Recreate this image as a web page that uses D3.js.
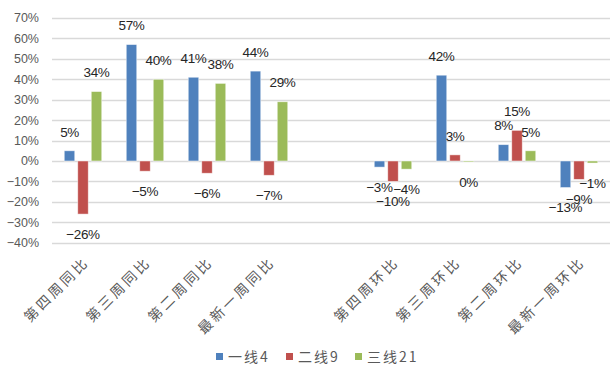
<!DOCTYPE html>
<html>
<head>
<meta charset="utf-8">
<script src="https://cdn.jsdelivr.net/npm/d3@7"></script>
<style>
  body { margin: 0; background: #fff; }
  svg { font-family: "Liberation Sans", "Noto Sans CJK SC", sans-serif; }
  svg text.cjk { font-family: "Noto Sans CJK SC", sans-serif; }
</style>
</head>
<body>
<svg id="chart" width="611" height="367"></svg>
<script>
// categories, one empty slot between the two halves
var categories = ['第四周同比', '第三周同比', '第二周同比', '最新一周同比', '',
  '第四周环比', '第三周环比', '第二周环比', '最新一周环比'];
var seriesNames = ['一线4', '二线9', '三线21'];
var seriesColors = ['#4F81BD', '#C0504D', '#9BBB59'];
var line1 = [5, 57, 41, 44, null, -3, 42, 8, -13];
var line2 = [-26, -5, -6, -7, null, -10, 3, 15, -9];
var line3 = [34, 40, 38, 29, null, -4, -0.4, 5, -1];
var yTicks = [-40, -30, -20, -10, 0, 10, 20, 30, 40, 50, 60, 70];

var seriesValues = [line1, line2, line3];
var svg = d3.select('#chart');
var margin = {left: 52, right: 1, top: 18, bottom: 124};
var width = 611, height = 367;

var x = d3.scaleBand()
  .domain(categories.map(function(d, i) { return i; }))
  .range([margin.left, width - margin.right]);

var x1 = d3.scaleBand()
  .domain([0, 1, 2])
  .range([0, 37.5])
  .paddingInner(0.222);
var groupOffset = (x.bandwidth() - 37.5) / 2;

var y = d3.scaleLinear()
  .domain([-40, 70])
  .range([height - margin.bottom - 0.3, margin.top]);

// gridlines
svg.append('g')
  .selectAll('line')
  .data(yTicks)
  .join('line')
  .attr('x1', margin.left)
  .attr('x2', width - margin.right)
  .attr('y1', function(d) { return Math.round(y(d)) + 0.5; })
  .attr('y2', function(d) { return Math.round(y(d)) + 0.5; })
  .attr('stroke', '#D9D9D9')
  .attr('stroke-width', 1.3);

function pct(v) {
  var r = Math.round(v);
  if (r === 0) return '0%';
  return (r < 0 ? '\u2212' + Math.abs(r) : r) + '%';
}

// y axis labels
svg.append('g')
  .selectAll('text')
  .data(yTicks)
  .join('text')
  .attr('x', 39)
  .attr('y', function(d) { return y(d); })
  .attr('dy', '0.35em')
  .attr('text-anchor', 'end')
  .attr('fill', '#595959')
  .attr('font-size', 12.5)
  .text(pct);

// bars
var bars = [];
seriesValues.forEach(function(vals, s) {
  vals.forEach(function(v, i) {
    if (v === null) return;
    bars.push({s: s, i: i, v: v});
  });
});

svg.append('g')
  .selectAll('rect')
  .data(bars)
  .join('rect')
  .attr('x', function(d) { return x(d.i) + groupOffset + x1(d.s); })
  .attr('width', x1.bandwidth())
  .attr('y', function(d) { return Math.min(y(d.v), y(0)); })
  .attr('height', function(d) { return Math.max(1, Math.abs(y(d.v) - y(0))); })
  .attr('fill', function(d) { return seriesColors[d.s]; })
  .attr('stroke', '#fff')
  .attr('stroke-opacity', 0.6)
  .attr('stroke-width', 0.8);

// data labels
svg.append('g')
  .selectAll('text')
  .data(bars)
  .join('text')
  .attr('x', function(d) { return x(d.i) + groupOffset + x1(d.s) + x1.bandwidth() / 2; })
  .attr('y', function(d) { return y(d.v) + (d.v >= 0 ? -19 : 20); })
  .attr('dy', '0.35em')
  .attr('text-anchor', 'middle')
  .attr('fill', '#262626')
  .attr('font-size', 13.5)
  .attr('letter-spacing', -0.4)
  .text(function(d) { return pct(d.v); });

// category labels, rotated
svg.append('g')
  .selectAll('text')
  .data(categories.map(function(c, i) { return {c: c, i: i}; }).filter(function(d) { return d.c; }))
  .join('text')
  .attr('class', 'cjk')
  .attr('transform', function(d) {
    return 'translate(' + (x(d.i) + x.bandwidth() / 2 + 7) + ',' + 263 + ') rotate(-45)';
  })
  .attr('text-anchor', 'end')
  .attr('fill', '#595959')
  .attr('font-size', 14)
  .attr('letter-spacing', 3)
  .text(function(d) { return d.c; });

// legend
var legendX = [216, 286, 355];
var legend = svg.append('g');
seriesNames.forEach(function(name, s) {
  legend.append('rect')
    .attr('x', legendX[s])
    .attr('y', 353)
    .attr('width', 7)
    .attr('height', 7)
    .attr('fill', seriesColors[s]);
  legend.append('text')
    .attr('class', 'cjk')
    .attr('x', legendX[s] + 12)
    .attr('y', 357)
    .attr('dy', '0.35em')
    .attr('fill', '#595959')
    .attr('font-size', 14)
    .attr('letter-spacing', 2)
    .text(name);
});
</script>
</body>
</html>
